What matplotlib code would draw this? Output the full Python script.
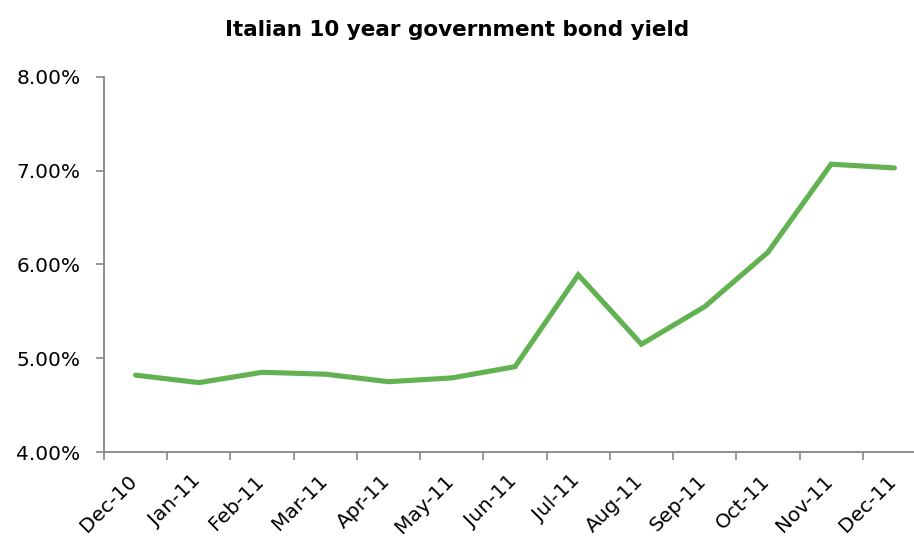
import matplotlib
matplotlib.use('Agg')
import matplotlib.pyplot as plt
import matplotlib.transforms as mtransforms
import numpy as np
from matplotlib.ticker import FuncFormatter

months = ['Dec-10', 'Jan-11', 'Feb-11', 'Mar-11', 'Apr-11', 'May-11', 'Jun-11',
          'Jul-11', 'Aug-11', 'Sep-11', 'Oct-11', 'Nov-11', 'Dec-11']
yields = [4.82, 4.74, 4.85, 4.83, 4.75, 4.79, 4.91,
          5.89, 5.15, 5.55, 6.13, 7.07, 7.03]
y_ticks = [4, 5, 6, 7, 8]

plt.rc('font', family='DejaVu Sans')
fig = plt.figure(figsize=(9.14, 5.39), dpi=100)
ax = fig.add_axes([104/914, 87/539, 822/914, 375/539])

x = np.arange(len(months))
ax.plot(x, yields, color='#63b252', lw=3.7, solid_capstyle='round', solid_joinstyle='miter')

ax.set_xlim(-0.5, len(months) - 0.5)
ax.set_ylim(4, 8)
ax.set_yticks(y_ticks)
ax.yaxis.set_major_formatter(FuncFormatter(lambda v, p: '%.2f%%' % v))

ax.set_xticks(x)
ax.set_xticklabels(months, rotation=45, ha='right', rotation_mode='anchor')
ax.set_xticks(np.arange(len(months) + 1) - 0.5, minor=True)
ax.tick_params(axis='x', which='major', length=0, pad=14, labelsize=14.5)
ax.tick_params(axis='x', which='minor', length=6, width=1.2, color='#868686', direction='out')
ax.tick_params(axis='y', length=6, width=1.2, color='#868686', labelsize=14.5, pad=11)

# nudge the rotated labels left a bit
shift = mtransforms.ScaledTranslation(-8/100, 0, fig.dpi_scale_trans)
for lab in ax.get_xticklabels():
    lab.set_transform(lab.get_transform() + shift)

for s in ['top', 'right']:
    ax.spines[s].set_visible(False)
for s in ['left', 'bottom']:
    ax.spines[s].set_color('#868686')
    ax.spines[s].set_linewidth(1.3)

fig.text(0.5, 1 - 30/539, 'Italian 10 year government bond yield', ha='center', va='center',
         fontsize=15.5, fontweight='bold')

fig.savefig('out.png', dpi=100)
